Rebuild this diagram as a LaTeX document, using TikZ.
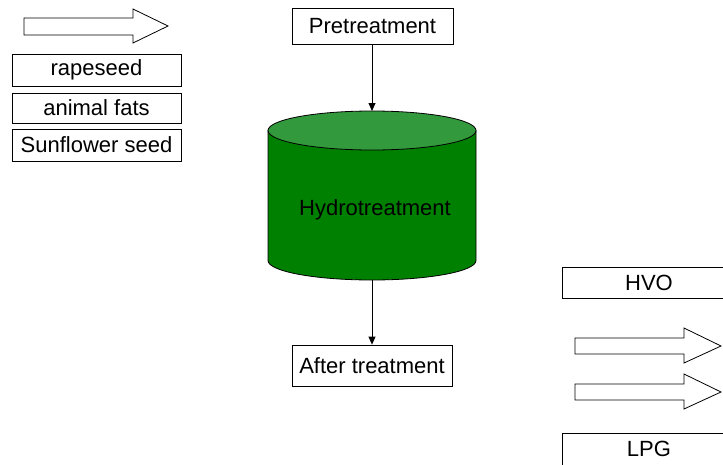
\documentclass[tikz,border=0pt]{standalone}
\usepackage{fontspec}
\setmainfont{Liberation Sans}
\usetikzlibrary{arrows.meta}
\definecolor{cyltop}{RGB}{51,153,61}
\definecolor{cylside}{RGB}{0,128,0}
\tikzset{
  lbl/.style={draw=black, line width=0.8pt, fill=white, inner sep=0pt, font=\fontsize{22}{26}\selectfont},
  conn/.style={draw=black, line width=0.8pt, -{Triangle[length=8pt,width=7pt]}},
  blockarrow/.style={draw=black, line width=0.8pt, fill=white, line join=miter}
}
\begin{document}
\begin{tikzpicture}[x=1pt,y=-1pt]
\useasboundingbox (0,0) rectangle (723,464);
\clip (0,0) rectangle (723,464);
% left inputs
\draw[blockarrow] (24,18) -- (133,18) -- (133,9) -- (168,26) -- (133,43) -- (133,35) -- (24,35) -- cycle;
\node[lbl, minimum width=169pt, minimum height=32pt] (rape) at (96.5,70) {rapeseed};
\node[lbl, minimum width=169pt, minimum height=30pt] (fats) at (96.5,108) {animal fats};
\node[lbl, minimum width=169pt, minimum height=32pt] (sun) at (96.5,145) {Sunflower seed};
% center column
\node[lbl, minimum width=161pt, minimum height=36pt] (pre) at (372.5,26) {Pretreatment};
% cylinder
\fill[cylside, draw=black, line width=0.8pt] (268,130.5) -- (268,260.5) arc[start angle=180, end angle=0, x radius=104, y radius=19.5] -- (476,130.5) -- cycle;
\fill[cyltop, draw=black, line width=0.8pt] (372,130.5) ellipse[x radius=104, y radius=19.5];
\coordinate (cyltopc) at (372,111);
\coordinate (cylbot) at (372,280);
\node[font=\fontsize{22}{26}\selectfont] (hydro) at (375,210) {Hydrotreatment};
\node[lbl, minimum width=160pt, minimum height=41pt] (after) at (372,365.5) {After treatment};
\draw[conn] (pre.south -| cyltopc) -- (cyltopc);
\draw[conn] (cylbot) -- (after.north -| cylbot);
% right outputs
\node[lbl, minimum width=174pt, minimum height=31pt] (hvo) at (649,282.5) {HVO};
\draw[blockarrow] (575,338) -- (684,338) -- (684,328) -- (721,346) -- (684,363) -- (684,354) -- (575,354) -- cycle;
\draw[blockarrow] (575,384) -- (684,384) -- (684,374) -- (721,392) -- (684,409) -- (684,400) -- (575,400) -- cycle;
\node[lbl, minimum width=174pt, minimum height=32pt] (lpg) at (649,449) {LPG};
\end{tikzpicture}
\end{document}
